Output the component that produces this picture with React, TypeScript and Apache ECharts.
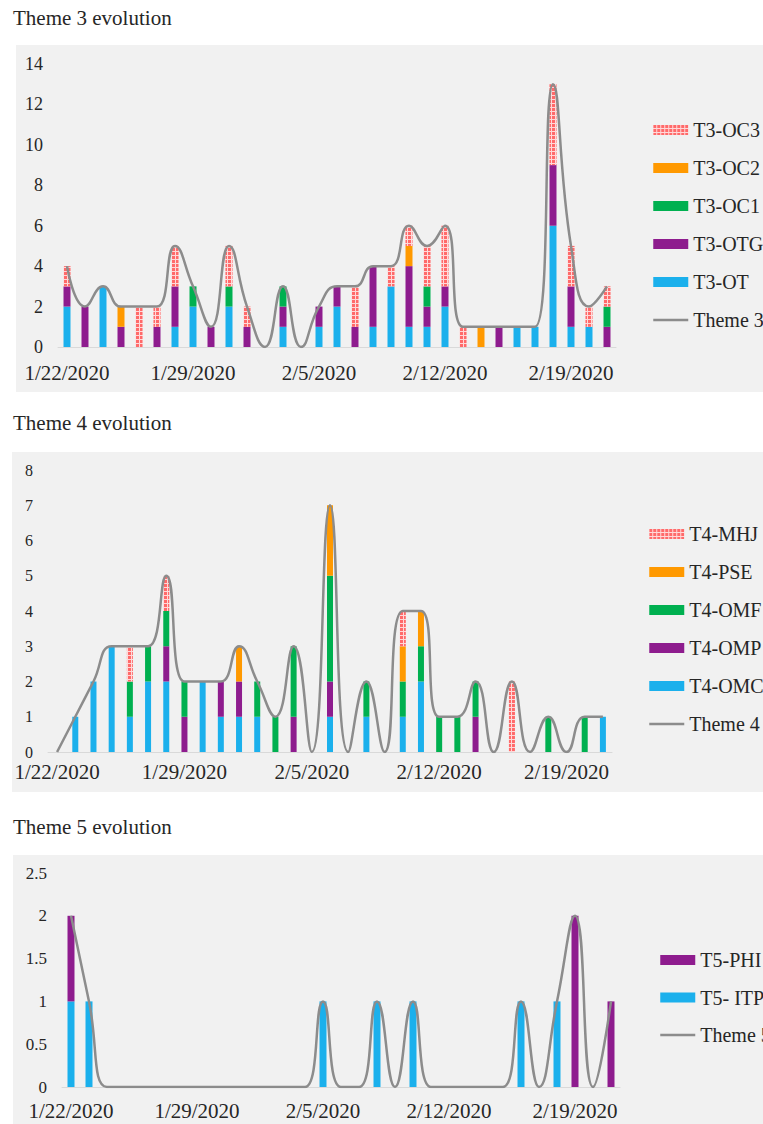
import React, { useEffect, useRef } from "react";
import * as echarts from "echarts";

const dates = [
  "1/22/2020", "1/23/2020", "1/24/2020", "1/25/2020", "1/26/2020", "1/27/2020", "1/28/2020",
  "1/29/2020", "1/30/2020", "1/31/2020", "2/1/2020", "2/2/2020", "2/3/2020", "2/4/2020",
  "2/5/2020", "2/6/2020", "2/7/2020", "2/8/2020", "2/9/2020", "2/10/2020", "2/11/2020",
  "2/12/2020", "2/13/2020", "2/14/2020", "2/15/2020", "2/16/2020", "2/17/2020", "2/18/2020",
  "2/19/2020", "2/20/2020", "2/21/2020",
];

// Theme 3
const t3OT = [2, 0, 3, 0, 0, 0, 1, 2, 0, 2, 0, 0, 1, 0, 1, 2, 0, 1, 3, 1, 1, 2, 0, 0, 0, 1, 1, 6, 1, 1, 0];
const t3OTG = [1, 2, 0, 1, 0, 1, 2, 0, 1, 0, 1, 0, 1, 0, 1, 1, 1, 3, 0, 3, 1, 1, 0, 0, 1, 0, 0, 3, 2, 0, 1];
const t3OC1 = [0, 0, 0, 0, 0, 0, 0, 1, 0, 1, 0, 0, 1, 0, 0, 0, 0, 0, 0, 0, 1, 0, 0, 0, 0, 0, 0, 0, 0, 0, 1];
const t3OC2 = [0, 0, 0, 1, 0, 0, 0, 0, 0, 0, 0, 0, 0, 0, 0, 0, 0, 0, 0, 1, 0, 0, 0, 1, 0, 0, 0, 0, 0, 0, 0];
const t3OC3 = [1, 0, 0, 0, 2, 1, 2, 0, 0, 2, 1, 0, 0, 0, 0, 0, 2, 0, 1, 1, 2, 3, 1, 0, 0, 0, 0, 4, 2, 1, 1];
const theme3 = [4, 2, 3, 2, 2, 2, 5, 3, 1, 5, 2, 0, 3, 0, 2, 3, 3, 4, 4, 6, 5, 6, 1, 1, 1, 1, 1, 13, 5, 2, 3];

// Theme 4
const t4OMC = [0, 1, 2, 3, 1, 2, 2, 0, 2, 1, 1, 1, 0, 0, 0, 1, 0, 1, 0, 1, 2, 0, 0, 0, 0, 0, 0, 0, 0, 0, 1];
const t4OMP = [0, 0, 0, 0, 0, 0, 1, 1, 0, 1, 1, 0, 0, 1, 0, 1, 0, 0, 0, 0, 0, 0, 0, 1, 0, 0, 0, 0, 0, 0, 0];
const t4OMF = [0, 0, 0, 0, 1, 1, 1, 1, 0, 0, 0, 1, 1, 2, 0, 3, 0, 1, 0, 1, 1, 1, 1, 1, 0, 0, 0, 1, 0, 1, 0];
const t4PSE = [0, 0, 0, 0, 0, 0, 0, 0, 0, 0, 1, 0, 0, 0, 0, 2, 0, 0, 0, 1, 1, 0, 0, 0, 0, 0, 0, 0, 0, 0, 0];
const t4MHJ = [0, 0, 0, 0, 1, 0, 1, 0, 0, 0, 0, 0, 0, 0, 0, 0, 0, 0, 0, 1, 0, 0, 0, 0, 0, 2, 0, 0, 0, 0, 0];
const theme4 = [0, 1, 2, 3, 3, 3, 5, 2, 2, 2, 3, 2, 1, 3, 0, 7, 0, 2, 0, 4, 4, 1, 1, 2, 0, 2, 0, 1, 0, 1, 1];

// Theme 5
const t5ITP = [1, 1, 0, 0, 0, 0, 0, 0, 0, 0, 0, 0, 0, 0, 1, 0, 0, 1, 0, 1, 0, 0, 0, 0, 0, 1, 0, 1, 0, 0, 0];
const t5PHI = [1, 0, 0, 0, 0, 0, 0, 0, 0, 0, 0, 0, 0, 0, 0, 0, 0, 0, 0, 0, 0, 0, 0, 0, 0, 0, 0, 0, 2, 0, 1];
const theme5 = [2, 1, 0, 0, 0, 0, 0, 0, 0, 0, 0, 0, 0, 0, 1, 0, 0, 1, 0, 1, 0, 0, 0, 0, 0, 1, 0, 1, 2, 0, 1];

const FONT = "'Liberation Serif', 'Times New Roman', 'DejaVu Serif', serif";
const TEXT = "#262626";
const BLUE = "#1BB0EC";
const PURPLE = "#8E1C8E";
const GREEN = "#00B050";
const ORANGE = "#FF9900";
const GRAY = "#8C8C8C";
const BG = "#F1F1F1";

const patternStyle = {
  color: "#FFD8D8",
  decal: {
    symbol: "rect",
    symbolSize: 1,
    dashArrayX: [3, 1],
    dashArrayY: [3, 1],
    color: "#FF6A6A",
    rotation: 0,
  },
};

function bar(name: string, data: number[], idx: number, stack: string, itemStyle: any, barWidth: number) {
  return {
    name,
    type: "bar",
    stack,
    data,
    xAxisIndex: idx,
    yAxisIndex: idx,
    barWidth,
    itemStyle,
    emphasis: { disabled: true },
  };
}

function line(name: string, data: number[], idx: number) {
  return {
    name,
    type: "line",
    data,
    xAxisIndex: idx,
    yAxisIndex: idx,
    smooth: true,
    symbol: "none",
    showSymbol: false,
    lineStyle: { color: GRAY, width: 2.5 },
    itemStyle: { color: GRAY },
    z: 5,
  };
}

function xAxis(idx: number, margin: number) {
  return {
    type: "category",
    gridIndex: idx,
    data: dates,
    boundaryGap: true,
    axisTick: { show: false },
    axisLine: { lineStyle: { color: "#D9D9D9", width: 1 } },
    axisLabel: { interval: 6, fontSize: 21, fontFamily: FONT, color: TEXT, margin },
  };
}

function yAxis(idx: number, max: number, interval: number, fontSize: number) {
  return {
    type: "value",
    gridIndex: idx,
    min: 0,
    max,
    interval,
    splitLine: { show: false },
    axisLine: { show: false },
    axisTick: { show: false },
    axisLabel: { fontSize, fontFamily: FONT, color: TEXT, margin: 15 },
  };
}

function legend(names: string[], lineName: string, left: number, top: number, gap: number) {
  return {
    orient: "vertical",
    left,
    top,
    itemGap: gap,
    itemWidth: 35,
    itemHeight: 10,
    selectedMode: false,
    textStyle: { fontSize: 20, fontFamily: FONT, color: TEXT, lineHeight: 20 },
    data: [
      ...names.map((n) => ({ name: n, icon: "rect" })),
      { name: lineName, itemStyle: { opacity: 0 }, lineStyle: { color: GRAY, width: 2.5 } },
    ],
  };
}

function title(text: string, top: number) {
  return {
    text,
    left: 8,
    top,
    textStyle: { fontSize: 21, fontFamily: FONT, fontWeight: "normal", color: TEXT },
  };
}

export default function App() {
  const ref = useRef<HTMLDivElement>(null);
  useEffect(() => {
    if (!ref.current) return;
    const chart = echarts.init(ref.current, null, { renderer: "svg" });
    const option: any = {
      animation: false,
      backgroundColor: "#FFFFFF",
      title: [title("Theme 3 evolution", 2), title("Theme 4 evolution", 407), title("Theme 5 evolution", 811)],
      graphic: [
        { type: "rect", z: -10, shape: { x: 16, y: 45, width: 747, height: 347 }, style: { fill: BG } },
        { type: "rect", z: -10, shape: { x: 12, y: 452, width: 751, height: 340 }, style: { fill: BG } },
        { type: "rect", z: -10, shape: { x: 13, y: 855, width: 750, height: 280 }, style: { fill: BG } },
      ],
      grid: [
        { left: 58, top: 64, width: 558, height: 283 },
        { left: 48, top: 470, width: 564, height: 282 },
        { left: 62, top: 873, width: 558, height: 214 },
      ],
      xAxis: [xAxis(0, 15), xAxis(1, 9), xAxis(2, 13)],
      yAxis: [yAxis(0, 14, 2, 18), yAxis(1, 8, 1, 16), yAxis(2, 2.5, 0.5, 17)],
      legend: [
        legend(["T3-OC3", "T3-OC2", "T3-OC1", "T3-OTG", "T3-OT"], "Theme 3", 647, 115, 18),
        legend(["T4-MHJ", "T4-PSE", "T4-OMF", "T4-OMP", "T4-OMC"], "Theme 4", 643, 519, 18),
        legend(["T5-PHI", "T5- ITP"], "Theme 5", 654, 945, 17.5),
      ],
      series: [
        bar("T3-OT", t3OT, 0, "s3", { color: BLUE }, 7),
        bar("T3-OTG", t3OTG, 0, "s3", { color: PURPLE }, 7),
        bar("T3-OC1", t3OC1, 0, "s3", { color: GREEN }, 7),
        bar("T3-OC2", t3OC2, 0, "s3", { color: ORANGE }, 7),
        bar("T3-OC3", t3OC3, 0, "s3", patternStyle, 7),
        line("Theme 3", theme3, 0),
        bar("T4-OMC", t4OMC, 1, "s4", { color: BLUE }, 6),
        bar("T4-OMP", t4OMP, 1, "s4", { color: PURPLE }, 6),
        bar("T4-OMF", t4OMF, 1, "s4", { color: GREEN }, 6),
        bar("T4-PSE", t4PSE, 1, "s4", { color: ORANGE }, 6),
        bar("T4-MHJ", t4MHJ, 1, "s4", patternStyle, 6),
        line("Theme 4", theme4, 1),
        bar("T5- ITP", t5ITP, 2, "s5", { color: BLUE }, 7),
        bar("T5-PHI", t5PHI, 2, "s5", { color: PURPLE }, 7),
        line("Theme 5", theme5, 2),
      ],
    };
    chart.setOption(option);
    return () => chart.dispose();
  }, []);
  return (
    <div
      ref={ref}
      style={{ position: "absolute", left: 0, top: 0, width: 763, height: 1124 }}
    />
  );
}
